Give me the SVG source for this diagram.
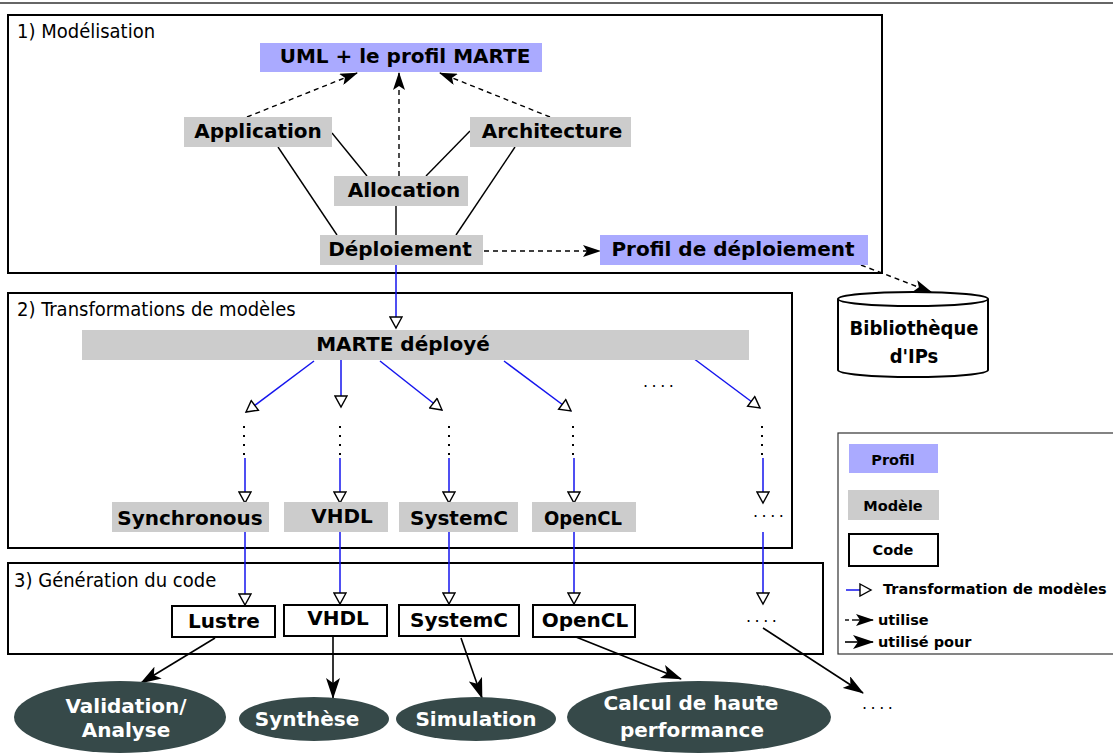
<svg xmlns="http://www.w3.org/2000/svg" width="1113" height="753" viewBox="0 0 1113 753">
<defs>
<style>
.sec{fill:#fff;stroke:#000;stroke-width:2}
.title{font-family:"DejaVu Sans Condensed","DejaVu Sans",sans-serif;font-size:20px;fill:#000}
.lbl{font-family:"DejaVu Sans",sans-serif;font-weight:bold;font-size:20px;fill:#000;text-anchor:middle}
.lblc{font-family:"DejaVu Sans Condensed","DejaVu Sans",sans-serif;font-weight:bold;font-size:20px;fill:#000;text-anchor:middle}
.wl{font-family:"DejaVu Sans",sans-serif;font-weight:bold;font-size:20px;fill:#fff;text-anchor:middle}
.leg{font-family:"DejaVu Sans",sans-serif;font-weight:bold;font-size:14.5px;fill:#000}
.dots{font-family:"DejaVu Sans",sans-serif;font-size:16px;fill:#000;letter-spacing:3.5px}
.prof{fill:#aaaaff}
.model{fill:#cccccc}
.code{fill:#fff;stroke:#000;stroke-width:2}
.ell{fill:#364949}
.dash{fill:none;stroke:#000;stroke-width:1.4;stroke-dasharray:5 4;marker-end:url(#filled)}
.solid{fill:none;stroke:#000;stroke-width:1.4}
.use{fill:none;stroke:#000;stroke-width:1.6;marker-end:url(#big)}
.tr{fill:none;stroke:#1515ee;stroke-width:1.5;marker-end:url(#hollow)}
.vd{fill:none;stroke:#000;stroke-width:2;stroke-dasharray:2 7}
</style>
<marker id="filled" viewBox="0 0 18 12" refX="17" refY="6" markerWidth="18" markerHeight="12" orient="auto" markerUnits="userSpaceOnUse">
<path d="M0,0 L18,6 L0,12 L4,6 z" fill="#000"/>
</marker>
<marker id="big" viewBox="0 0 21 14" refX="20" refY="7" markerWidth="21" markerHeight="14" orient="auto" markerUnits="userSpaceOnUse">
<path d="M0,0 L21,7 L0,14 L5,7 z" fill="#000"/>
</marker>
<marker id="hollow" viewBox="0 0 14 14" refX="12.5" refY="7" markerWidth="14" markerHeight="14" orient="auto" markerUnits="userSpaceOnUse">
<path d="M1.5,1 L12.5,7 L1.5,13 z" fill="#fff" stroke="#000" stroke-width="1.4"/>
</marker>
</defs>
<rect width="1113" height="753" fill="#fff"/>
<line x1="0" y1="3" x2="1113" y2="3" stroke="#333" stroke-width="1.5"/>

<g id="section1"><rect class="sec" x="8" y="15" width="874" height="258"/><text class="title" x="17" y="38">1) Modélisation</text></g>
<g id="section2"><rect class="sec" x="8" y="293" width="784" height="255"/><text class="title" x="17" y="316">2) Transformations de modèles</text></g>
<g id="section3"><rect class="sec" x="8" y="563" width="815" height="91"/><text class="title" x="14" y="587">3) Génération du code</text></g>

<g id="connectors">
<line class="dash" x1="247" y1="117" x2="357" y2="73"/>
<line class="dash" x1="399" y1="176" x2="399" y2="73"/>
<line class="dash" x1="550" y1="117" x2="440" y2="73"/>
<line class="solid" x1="332" y1="133" x2="367" y2="176"/>
<line class="solid" x1="278" y1="147" x2="337" y2="235"/>
<line class="solid" x1="470" y1="131" x2="426" y2="176"/>
<line class="solid" x1="515" y1="147" x2="456" y2="235"/>
<line class="solid" x1="396" y1="206" x2="396" y2="235"/>
<line class="dash" x1="484" y1="251" x2="600" y2="251"/>
<line class="dash" x1="861" y1="265" x2="931" y2="292"/>
<line class="tr" x1="396" y1="265" x2="396" y2="328"/>
<line class="tr" x1="314" y1="361" x2="246" y2="412"/>
<line class="tr" x1="341" y1="360" x2="341" y2="407"/>
<line class="tr" x1="380" y1="361" x2="442" y2="410"/>
<line class="tr" x1="504" y1="361" x2="571" y2="411"/>
<line class="tr" x1="693" y1="358" x2="760" y2="408"/>
<line class="vd" x1="244" y1="426" x2="244" y2="456"/>
<line class="vd" x1="340" y1="426" x2="340" y2="456"/>
<line class="vd" x1="449" y1="426" x2="449" y2="456"/>
<line class="vd" x1="573" y1="426" x2="573" y2="456"/>
<line class="vd" x1="762" y1="426" x2="762" y2="456"/>
<line class="tr" x1="245" y1="458" x2="245" y2="503"/>
<line class="tr" x1="340" y1="458" x2="340" y2="503"/>
<line class="tr" x1="449" y1="458" x2="449" y2="503"/>
<line class="tr" x1="574" y1="458" x2="574" y2="503"/>
<line class="tr" x1="763" y1="458" x2="763" y2="503"/>
<line class="tr" x1="245" y1="532" x2="245" y2="605"/>
<line class="tr" x1="340" y1="532" x2="340" y2="604"/>
<line class="tr" x1="449" y1="532" x2="449" y2="604"/>
<line class="tr" x1="574" y1="532" x2="574" y2="604"/>
<line class="tr" x1="763" y1="532" x2="763" y2="604"/>
<line class="use" x1="215" y1="638" x2="141" y2="683"/>
<line class="use" x1="333" y1="636" x2="333" y2="698"/>
<line class="use" x1="461" y1="638" x2="482" y2="698"/>
<line class="use" x1="576" y1="637" x2="681" y2="679"/>
<line class="use" x1="763" y1="628" x2="863" y2="693"/>
</g>

<g id="uml"><rect class="prof" x="260" y="43" width="282" height="29"/><text class="lbl" x="405" y="63">UML + le profil MARTE</text></g>
<g id="application"><rect class="model" x="184" y="117" width="148" height="30"/><text class="lbl" x="258" y="138">Application</text></g>
<g id="architecture"><rect class="model" x="470" y="117" width="161" height="30"/><text class="lbl" x="552" y="138">Architecture</text></g>
<g id="allocation"><rect class="model" x="334" y="176" width="134" height="30"/><text class="lbl" x="404" y="197">Allocation</text></g>
<g id="deploiement"><rect class="model" x="320" y="235" width="163" height="30"/><text class="lbl" x="400" y="256">Déploiement</text></g>
<g id="profil-deploiement"><rect class="prof" x="600" y="235" width="268" height="30"/><text class="lbl" x="733" y="256">Profil de déploiement</text></g>
<g id="bibliotheque">
<path d="M838,299 L838,370 A75,7 0 0 0 988,370 L988,299" fill="#fff" stroke="#000" stroke-width="2"/>
<ellipse cx="913" cy="299" rx="75" ry="7" fill="#fff" stroke="#000" stroke-width="2"/>
<text class="lblc" x="914" y="335">Bibliothèque</text>
<text class="lblc" x="914" y="363">d'IPs</text>
</g>

<g id="marte-deploye"><rect class="model" x="82" y="330" width="667" height="30"/><text class="lbl" x="403" y="351">MARTE déployé</text></g>
<text class="dots" x="643" y="387">....</text>
<g id="m-synchronous"><rect class="model" x="112" y="502" width="157" height="30"/><text class="lbl" x="190" y="525">Synchronous</text></g>
<g id="m-vhdl"><rect class="model" x="284" y="502" width="104" height="30"/><text class="lbl" x="342" y="523">VHDL</text></g>
<g id="m-systemc"><rect class="model" x="399" y="502" width="119" height="30"/><text class="lbl" x="459" y="525">SystemC</text></g>
<g id="m-opencl"><rect class="model" x="532" y="502" width="104" height="30"/><text class="lblc" x="583" y="525">OpenCL</text></g>
<text class="dots" x="753" y="517">....</text>

<g id="c-lustre"><rect class="code" x="172" y="606" width="103" height="31"/><text class="lbl" x="224" y="628">Lustre</text></g>
<g id="c-vhdl"><rect class="code" x="284" y="605" width="103" height="31"/><text class="lbl" x="338" y="625">VHDL</text></g>
<g id="c-systemc"><rect class="code" x="399" y="605" width="120" height="31"/><text class="lbl" x="459" y="627">SystemC</text></g>
<g id="c-opencl"><rect class="code" x="533" y="605" width="102" height="32"/><text class="lbl" x="585" y="627">OpenCL</text></g>
<text class="dots" x="746" y="622">....</text>

<g id="validation"><ellipse class="ell" cx="120" cy="717" rx="106" ry="36"/><text class="wl" x="126" y="713">Validation/</text><text class="wl" x="126" y="737">Analyse</text></g>
<g id="synthese"><ellipse class="ell" cx="314" cy="719" rx="75" ry="22"/><text class="wl" x="307" y="726">Synthèse</text></g>
<g id="simulation"><ellipse class="ell" cx="476" cy="719" rx="80" ry="22"/><text class="wl" x="476" y="726">Simulation</text></g>
<g id="calcul"><ellipse class="ell" cx="699" cy="717" rx="132" ry="36"/><text class="wl" x="691" y="710">Calcul de haute</text><text class="wl" x="692" y="737">performance</text></g>
<text class="dots" x="862" y="709">....</text>

<g id="legend">
<rect x="838" y="433" width="280" height="221" fill="none" stroke="#333" stroke-width="1.2"/>
<rect class="prof" x="849" y="444" width="89" height="29"/><text class="leg" x="893" y="465" text-anchor="middle">Profil</text>
<rect class="model" x="848" y="490" width="91" height="30"/><text class="leg" x="893" y="511" text-anchor="middle">Modèle</text>
<rect class="code" x="849" y="534" width="89" height="32"/><text class="leg" x="893" y="555" text-anchor="middle">Code</text>
<line class="tr" x1="846" y1="590" x2="871" y2="590"/><text class="leg" x="883" y="594">Transformation de modèles</text>
<line x1="845" y1="620" x2="849" y2="620" stroke="#000" stroke-width="1.4"/>
<line x1="852" y1="620" x2="873" y2="620" stroke="#000" stroke-width="1.4" marker-end="url(#filled)"/>
<text class="leg" x="878" y="625">utilise</text>
<line class="use" x1="845" y1="642" x2="873" y2="642"/><text class="leg" x="878" y="647">utilisé pour</text>
</g>
</svg>
